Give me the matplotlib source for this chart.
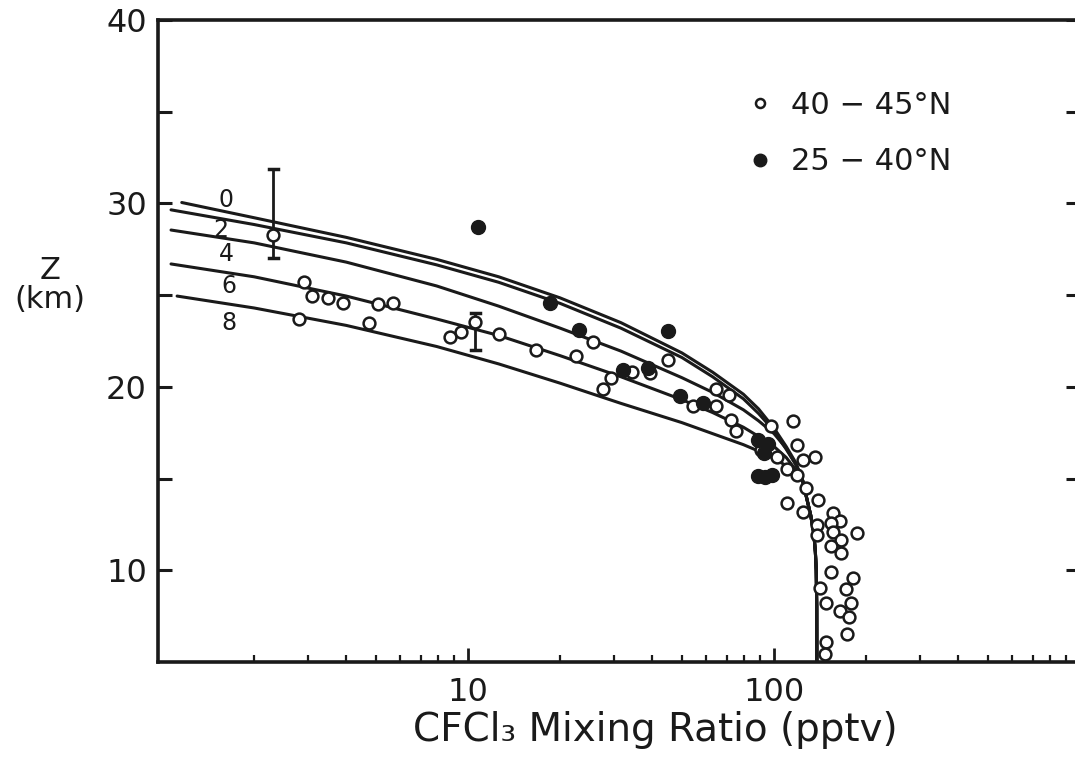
import matplotlib
matplotlib.use("Agg")
import matplotlib.pyplot as plt
from matplotlib.lines import Line2D
from matplotlib.ticker import FixedLocator, NullFormatter, FixedFormatter

plt.rcParams['font.family'] = ['DejaVu Sans']

# ---------------- data ----------------
# model curves (labels 0,2,4,6,8) - upper (curved) parts
curve0_x = [1.16, 2.0, 4.0, 7.9, 12.6, 20, 31.6, 50, 63, 79.4, 89, 100, 109.6, 117.5]
curve0_z = [30.05, 29.22, 28.15, 26.95, 26.0, 24.85, 23.5, 21.85, 20.8, 19.6, 18.8, 17.75, 16.75, 15.9]
curve2_x = [1.07, 2.0, 4.0, 7.9, 12.6, 20, 31.6, 50, 63, 79.4, 89, 100, 109.6, 117.5]
curve2_z = [29.65, 28.85, 27.85, 26.65, 25.7, 24.55, 23.2, 21.6, 20.55, 19.35, 18.55, 17.6, 16.6, 15.8]
curve4_x = [1.07, 2.0, 4.0, 7.9, 12.6, 20, 31.6, 50, 63, 79.4, 89, 100, 109.6, 117.5]
curve4_z = [28.55, 27.85, 26.8, 25.5, 24.4, 23.2, 21.95, 20.5, 19.7, 18.75, 18.15, 17.45, 16.65, 15.8]
curve6_x = [1.07, 2.0, 4.0, 7.9, 12.6, 20, 31.6, 50, 63, 79.4, 89, 100, 109.6, 117.5]
curve6_z = [26.7, 26.0, 24.95, 23.7, 22.8, 21.7, 20.55, 19.3, 18.6, 17.8, 17.3, 16.75, 16.15, 15.5]
curve8_x = [1.12, 2.0, 4.0, 7.9, 12.6, 20, 31.6, 50, 63, 79.4, 89, 100, 109.6, 117.5]
curve8_z = [24.95, 24.3, 23.35, 22.2, 21.25, 20.2, 19.1, 18.05, 17.45, 16.85, 16.5, 16.1, 15.7, 15.3]
# common lower (near-vertical) part shared by all curves
tail_x = [123.6, 127.6, 131.8, 134.9, 136.5, 137.4, 137.9, 138.0]
tail_z = [15.0, 14.0, 13.0, 12.0, 11.0, 10.0, 8.0, 5.0]
curve_labels = ["0", "2", "4", "6", "8"]
label_x = [1.62, 1.56, 1.62, 1.65, 1.66]
label_z = [30.2, 28.56, 27.25, 25.5, 23.47]

# observations 40-45N (open circles)
open_x = [2.31, 2.81, 2.92, 3.10, 3.49, 3.91, 4.73, 5.06, 5.70,
          8.76, 9.49, 10.57, 12.6, 16.7, 22.6, 25.6, 27.7, 29.4, 34.4, 39.3, 45.0, 54.3,
          64.6, 71.3, 64.6, 72.6, 75.4, 97.4, 115.5, 91.0, 101.9, 118.6, 124.6, 136.1,
          110.4, 118.6, 127.1, 109.9, 139.4, 124.6, 156, 164, 137.7, 154, 138.3, 156,
          187, 166, 154, 166, 153, 180.7, 171.8, 141.3, 178, 164, 147.9, 176, 173.4,
          147.9, 146.6]
open_z = [28.3, 23.69, 25.74, 24.96, 24.86, 24.59, 23.47, 24.50, 24.56,
          22.74, 23.01, 23.56, 22.88, 22.0, 21.69, 22.46, 19.87, 20.47, 20.83, 20.77, 21.47, 18.96,
          19.87, 19.56, 18.96, 18.2, 17.6, 17.88, 18.14, 16.56, 16.16, 16.83, 16.01, 16.19,
          15.5, 15.2, 14.47, 13.65, 13.83, 13.2, 13.1, 12.7, 12.47, 12.56, 11.92, 12.1,
          12.02, 11.65, 11.32, 10.96, 9.92, 9.56, 8.96, 9.02, 8.2, 7.8, 8.23, 7.47, 6.53,
          6.1, 5.44]
# error bars on two open points
err_x = [2.31, 10.57]
err_lo = [27.0, 22.0]
err_hi = [31.9, 24.0]

# observations 25-40N (filled circles)
fill_x = [10.76, 18.5, 23.0, 45.0, 32.1, 38.7, 49.2, 58.6, 88.7, 95.6, 93.0, 88.7, 93.5, 98.8]
fill_z = [28.74, 24.56, 23.1, 23.05, 20.92, 21.01, 19.5, 19.1, 17.1, 16.9, 16.4, 15.14, 15.1, 15.2]

x_ticks_labeled = [10, 100]
x_ticklabels = ["10", "100"]
y_major = [10, 20, 30, 40]
y_minor = [15, 25, 35]

# ---------------- figure ----------------
W, H = 1075, 763
fig = plt.figure(figsize=(W / 100, H / 100), dpi=100)
left, right, bottom, top = 158, 1080, 662, 20
ax = fig.add_axes([left / W, 1 - bottom / H, (right - left) / W, (bottom - top) / H])
ax.set_xscale('log')
ax.set_xlim(0.97, 1000)
ax.set_ylim(5, 40)

ink = '#1a1a1a'
curves = [(curve0_x, curve0_z), (curve2_x, curve2_z), (curve4_x, curve4_z),
          (curve6_x, curve6_z), (curve8_x, curve8_z)]
for cx, cz in curves:
    ax.plot(list(cx) + tail_x, list(cz) + tail_z, color=ink, lw=2.2,
            solid_capstyle='round', solid_joinstyle='round', zorder=2)

for lab, lx, lz in zip(curve_labels, label_x, label_z):
    ax.text(lx, lz, lab, fontsize=17, ha='center', va='center', color=ink, zorder=5)

# error bars
ax.vlines(err_x, err_lo, err_hi, color=ink, lw=2.0, zorder=3)
for ex, lo, hi in zip(err_x, err_lo, err_hi):
    ax.plot([ex / 1.035, ex * 1.035], [hi, hi], color=ink, lw=2.5, zorder=3)
    ax.plot([ex / 1.035, ex * 1.035], [lo, lo], color=ink, lw=2.5, zorder=3)

ax.plot(open_x, open_z, 'o', ms=8.5, mfc='white', mec=ink, mew=1.8,
        linestyle='none', zorder=4)
ax.plot(fill_x, fill_z, 'o', ms=10, mfc=ink, mec=ink, mew=1,
        linestyle='none', zorder=4)

# spines & ticks
for s in ax.spines.values():
    s.set_linewidth(2.6)
    s.set_color(ink)

ax.xaxis.set_major_locator(FixedLocator(x_ticks_labeled))
ax.xaxis.set_major_formatter(FixedFormatter(x_ticklabels))
minor_x = [m * d for d in (1, 10, 100) for m in range(2, 10)]
ax.xaxis.set_minor_locator(FixedLocator(minor_x))
ax.xaxis.set_minor_formatter(NullFormatter())
ax.yaxis.set_major_locator(FixedLocator(y_major))
ax.yaxis.set_minor_locator(FixedLocator(y_minor))

ax.tick_params(axis='x', which='major', direction='in', length=10, width=2,
               labelsize=23, pad=11, top=False, colors=ink)
ax.tick_params(axis='x', which='minor', direction='in', length=5, width=1.6, top=False,
               colors=ink)
ax.tick_params(axis='y', which='both', direction='in', length=10, width=2.2,
               labelsize=23, pad=8, right=True, colors=ink)

# axis labels
fig.text(655 / W, 1 - 730 / H, "CFCl₃ Mixing Ratio (pptv)", fontsize=28,
         ha='center', va='center', color=ink)
fig.text(50 / W, 1 - 285 / H, "Z\n(km)", fontsize=22, ha='center', va='center',
         linespacing=1.0, color=ink)

# legend
handles = [Line2D([], [], marker='o', ms=6.5, mfc='white', mec=ink, mew=1.8, ls='none'),
           Line2D([], [], marker='o', ms=9, mfc=ink, mec=ink, ls='none')]
leg = ax.legend(handles, ["40 − 45°N", "25 − 40°N"], loc='upper left',
                bbox_to_anchor=((748 - left) / (right - left), (bottom - 91) / (bottom - top)),
                frameon=False, fontsize=22, handlelength=0.8, handletextpad=0.6,
                labelspacing=0.9, borderpad=0, borderaxespad=0)
for t in leg.get_texts():
    t.set_color(ink)

fig.savefig("out.png", dpi=100)
